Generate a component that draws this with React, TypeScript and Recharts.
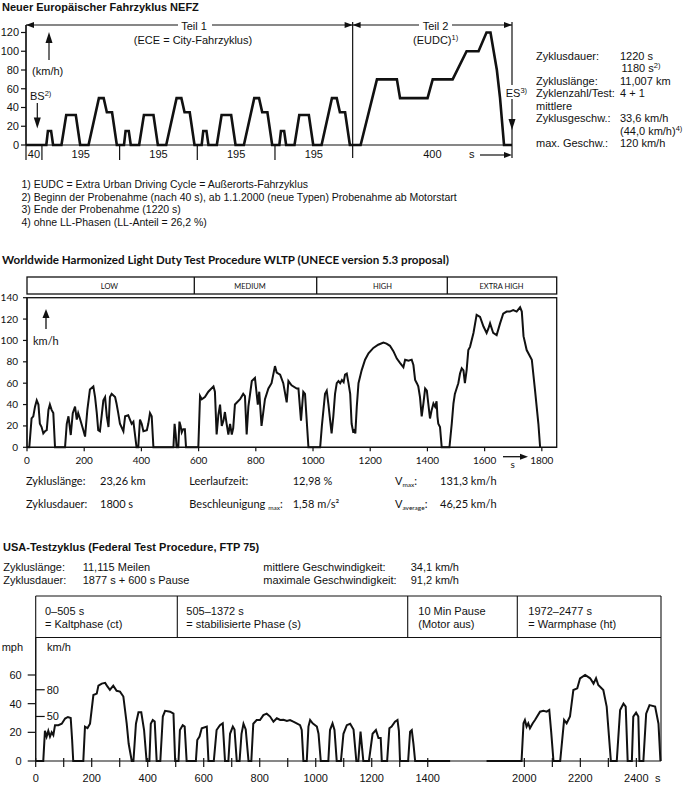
import { LineChart, Line, XAxis, YAxis } from "recharts"

const ARIAL = "'Liberation Sans', Arial, Helvetica, sans-serif"
const CAL = "Lato, 'Open Sans', sans-serif"
const INK = "#111"

// ---- NEFZ (NEDC) ----
const eceTimes = [0, 11, 15, 23, 28, 49, 61, 85, 96, 117, 143, 155, 163, 176, 188, 195]
const eceSpeeds = [0, 0, 15, 15, 0, 0, 32, 32, 0, 0, 50, 50, 35, 35, 0, 0]
const eudcTimes = [0, 20, 61, 111, 119, 188, 201, 251, 286, 316, 336, 346, 362, 370, 380, 400]
const eudcSpeeds = [0, 0, 70, 70, 50, 50, 70, 70, 100, 100, 120, 120, 80, 50, 0, 0]
const nefzSegLengths = [40, 195, 195, 195, 195, 400]
const nefzYTicks = [0, 20, 40, 60, 80, 100, 120]

// ---- WLTP, per phase (s, km/h) ----
const wltpLowTime = [
  0, 8, 16, 22, 28, 34, 40, 45, 51, 57, 63, 69, 75, 80, 86, 92, 98, 133, 139, 145,
  153, 160, 168, 174, 179, 185, 197, 203, 211, 220, 232, 238, 244, 249, 255, 267, 273, 279, 285, 290,
  296, 308, 313, 319, 325, 337, 343, 354, 360, 366, 372, 383, 389, 395, 401, 407, 419, 424, 430, 436,
  442, 512, 516, 520, 523, 529, 533, 537, 541, 546, 552, 556, 599,
]
const wltpLowSpeed = [
  0, 0, 27, 29, 38, 44, 40, 22, 19, 13, 15, 16, 35, 40, 35, 32, 0, 0, 22, 29,
  11.5, 32, 38, 26, 32, 27, 16, 10, 35, 54, 57, 47, 32, 16, 15, 44, 47, 29, 19, 47,
  50, 47, 41, 32, 22, 15, 29, 30, 26, 22, 24, 0, 0, 26, 22, 15, 16, 22, 32, 29,
  0, 0, 22, 12, 0, 0, 24, 20, 14, 17, 17, 0, 0,
]
const wltpMediumTime = [
  605, 611, 622, 634, 652, 657, 663, 669, 675, 681, 687, 692, 698, 704, 710, 716, 721, 727, 745, 756,
  762, 768, 774, 786, 797, 807, 812, 820, 832, 844, 855, 867, 873, 885, 896, 908, 914, 925, 943, 949,
  958, 966, 972, 984, 1025,
]
const wltpMediumSpeed = [
  48, 45, 47, 52, 57, 52, 12, 30, 40, 20, 25, 33, 22, 12, 22, 12, 18, 40, 45, 50,
  48, 12, 38, 62, 65, 40, 52, 20, 45, 55, 60, 76, 70, 68, 60, 42, 62, 58, 55, 55,
  25, 52, 50, 0, 0,
]
const wltpHighTime = [
  1031, 1042, 1048, 1054, 1060, 1065, 1071, 1077, 1083, 1089, 1095, 1101, 1107, 1112, 1118, 1124, 1130, 1135, 1140, 1144,
  1148, 1153, 1159, 1170, 1182, 1194, 1211, 1228, 1246, 1257, 1269, 1281, 1293, 1304, 1316, 1322, 1334, 1345, 1351, 1357,
  1363, 1368, 1374, 1380, 1386, 1392, 1398, 1403, 1409, 1415, 1421, 1427, 1432, 1435, 1438, 1444, 1450, 1477,
]
const wltpHighSpeed = [
  20, 50, 53, 40, 25, 13, 29, 50, 60, 62, 60, 63, 61, 68, 69, 60, 50, 22, 15, 16,
  13, 38, 60, 72, 82, 88, 93, 96, 98, 97, 95, 90, 83, 79, 75, 82, 81, 82, 77, 63,
  60, 57, 47, 29, 41, 55, 53, 41, 27, 35, 41, 38, 43, 29, 22, 19, 0, 0,
]
const wltpExtraTime = [
  1485, 1491, 1496, 1502, 1508, 1514, 1520, 1526, 1531, 1537, 1543, 1549, 1561, 1572, 1584, 1596, 1607, 1613, 1619, 1630,
  1642, 1654, 1665, 1677, 1688, 1700, 1712, 1724, 1730, 1736, 1747, 1765, 1776, 1788, 1794,
]
const wltpExtraSpeed = [
  22, 41, 50, 55, 60, 69, 74, 72, 60, 72, 91, 94, 107, 124, 122, 113, 107, 111, 116, 107,
  105, 116, 125, 127, 127, 128.5, 127, 131, 127, 104, 91, 82, 54, 22, 0,
]
const wltpYTicks = [0, 20, 40, 60, 80, 100, 120, 140]
const wltpXTicks = [0, 200, 400, 600, 800, 1000, 1200, 1400, 1600, 1800]
const wltpPhases = ["LOW", "MEDIUM", "HIGH", "EXTRA HIGH"]

// ---- FTP 75 (times in s, speed in mph) ----
const ftpTime = [
  0, 27, 33, 39, 45, 51, 57, 63, 69, 81, 93, 105, 115, 125, 130, 134, 170, 176, 185, 194,
  206, 218, 224, 236, 248, 256, 265, 277, 289, 301, 313, 325, 332, 343, 349, 358, 367, 377, 387, 396,
  406, 411, 418, 425, 432, 445, 454, 462, 480, 492, 498, 510, 515, 525, 532, 539, 572, 577, 585, 593,
  611, 617, 636, 646, 658, 668, 676, 688, 694, 704, 710, 718, 728, 735, 742, 750, 760, 770, 777, 789,
  801, 813, 825, 837, 849, 861, 873, 885, 897, 908, 920, 932, 944, 950, 956, 968, 974, 980, 989, 998,
  1004, 1010, 1018, 1045, 1051, 1060, 1067, 1075, 1090, 1099, 1111, 1123, 1135, 1145, 1152, 1160, 1170, 1190, 1203, 1215,
  1224, 1232, 1236, 1255, 1263, 1271, 1283, 1292, 1297, 1301, 1330, 1337, 1343, 1349, 1355, 1480,
]
const ftpMph = [
  0, 0, 21, 17, 21, 17, 20, 18, 25, 25, 26, 29.6, 30.7, 30, 15, 0, 0, 24, 23, 26,
  46, 47, 52.6, 54, 54.5, 52, 49.6, 52.6, 49, 48.4, 45, 26, 12, 0, 0, 26, 34, 34, 21.6, 0,
  0, 26, 28.6, 27.5, 0, 0, 31, 35, 34.4, 33, 0, 0, 21.6, 25, 24, 0, 0, 14.6, 17, 22.8,
  24, 0, 0, 21.6, 25, 26.3, 0, 0, 19, 24, 22, 0, 0, 19, 26, 22, 0, 0, 26, 28.6,
  28.6, 32, 33, 31, 27.4, 29.8, 28.6, 28.8, 28, 28.6, 27.4, 26.3, 25, 21.6, 0, 0, 24, 28.6, 26.3, 25,
  24, 19, 0, 0, 21.6, 26.3, 21.6, 0, 0, 19, 25, 26, 22, 0, 0, 20.5, 0, 0, 19, 21.6,
  16, 16, 0, 0, 22.8, 24, 27.4, 28.6, 21, 0, 0, 20.5, 21.6, 12, 0, 0,
]
const ftpHotTime = [
  1865, 1990, 1997, 2002, 2008, 2014, 2020, 2030, 2038, 2056, 2068, 2080, 2089, 2096, 2104, 2128, 2142, 2151, 2163, 2175,
  2189, 2199, 2217, 2235, 2247, 2256, 2264, 2282, 2294, 2309, 2330, 2342, 2354, 2362, 2369, 2384, 2389, 2399, 2407, 2411,
  2425, 2435, 2447, 2467, 2479, 2486,
]
const ftpHotMph = [
  0, 0, 26.3, 28.6, 24, 26.3, 22.8, 26.3, 28.6, 34.4, 35, 34.4, 35.6, 20, 0, 0, 28.6, 26.3, 31, 49.5,
  50.7, 57.7, 60, 57.7, 54, 57.7, 53, 49.5, 38, 0, 0, 35.6, 40, 38, 0, 0, 31, 33.7, 31, 0,
  0, 33, 39, 38, 26, 0,
]
const ftpPauseCut = 255 // seconds of the pause left out of the drawn axis
const ftpRealTicks = [0, 100, 200, 300, 400, 500, 600, 700, 800, 900, 1000, 1100, 1200, 1300, 1400, 2000, 2100, 2200, 2300, 2400]
const mphTicks = [0, 20, 40, 60]
const kmhTicks = [50, 80]
const KMH_PER_MPH = 1.609344
const ftpPhases = [
  ["0–505 s", "= Kaltphase (ct)"],
  ["505–1372 s", "= stabilisierte Phase (s)"],
  ["10 Min Pause", "(Motor aus)"],
  ["1972–2477 s", "= Warmphase (ht)"],
]

// build chart rows
const nefzData: { t: number; v: number }[] = [{ t: 0, v: 0 }]
for (let k = 0; k < 4; k++) {
  eceTimes.forEach((t, i) => nefzData.push({ t: 40 + k * 195 + t, v: eceSpeeds[i] }))
}
eudcTimes.forEach((t, i) => nefzData.push({ t: 820 + t, v: eudcSpeeds[i] }))

const nefzSegStarts = nefzSegLengths.map((_, i) => nefzSegLengths.slice(0, i).reduce((a, b) => a + b, 0))
const nefzSegTicks = nefzSegLengths.map((len, i) => nefzSegStarts[i] + len / 2)

const wltpTime = [...wltpLowTime, ...wltpMediumTime, ...wltpHighTime, ...wltpExtraTime]
const wltpSpeed = [...wltpLowSpeed, ...wltpMediumSpeed, ...wltpHighSpeed, ...wltpExtraSpeed]
const wltpData = wltpTime.map((t, i) => ({ t, v: wltpSpeed[i] }))

const toPos = (t: number) => (t > 1600 ? t - ftpPauseCut : t)
const toReal = (p: number) => (p > 1500 ? p + ftpPauseCut : p)
const ftpData: { pos: number; mph: number | null }[] = [
  ...ftpTime.map((t, i) => ({ pos: toPos(t), mph: ftpMph[i] })),
  { pos: 1545, mph: null },
  ...ftpHotTime.map((t, i) => ({ pos: toPos(t), mph: ftpHotMph[i] })),
]
const ftpTickPos = ftpRealTicks.map(toPos)
const ftpYTicks = [...mphTicks, ...kmhTicks.map((k) => k / KMH_PER_MPH)]

// pixel helper for the NEFZ annotations (same mapping as the chart: 26..512 px for 0..1220 s)
const nefzX = (t: number) => 26 + (t * 486) / 1220

function FtpTick(props: any) {
  const { x, y, payload } = props
  const real = toReal(payload.value)
  return (
    <g>
      <line x1={x} x2={x} y1={y - 3} y2={y + 6} stroke={INK} strokeWidth={1.2} />
      {real % 200 === 0 && (
        <text x={x} y={y + 20.5} textAnchor="middle" fontSize={11} fontFamily={ARIAL} fill={INK}>
          {real}
        </text>
      )}
    </g>
  )
}

// mph ticks to the left of the axis, km/h ticks inside the plot
function FtpYTick(props: any) {
  const { x, y, payload } = props
  const v = payload.value
  const kmh = kmhTicks.find((k) => Math.abs(k / KMH_PER_MPH - v) < 1e-6)
  if (kmh !== undefined) {
    return (
      <g>
        <line x1={x} x2={x + 9} y1={y} y2={y} stroke={INK} strokeWidth={1.2} />
        <text x={x + 11} y={y} dy="0.36em" fontSize={11} fontFamily={ARIAL} fill={INK}>
          {kmh}
        </text>
      </g>
    )
  }
  return (
    <g>
      <line x1={x - 8} x2={x} y1={y} y2={y} stroke={INK} strokeWidth={1.2} />
      <text x={x - 14} y={y} dy="0.36em" textAnchor="end" fontSize={11} fontFamily={ARIAL} fill={INK}>
        {v}
      </text>
    </g>
  )
}

function Txt(p: { x: number; y: number; children: any; size?: number; font?: string; bold?: boolean; anchor?: string }) {
  return (
    <text
      x={p.x}
      y={p.y}
      fontSize={p.size ?? 11}
      fontFamily={p.font ?? ARIAL}
      fontWeight={p.bold ? "bold" : "normal"}
      textAnchor={(p.anchor as any) ?? "start"}
      fill={INK}
    >
      {p.children}
    </text>
  )
}

function Sup({ children, size = 7.5 }: { children: any; size?: number }) {
  return (
    <tspan fontSize={size} dy={-4}>
      {children}
    </tspan>
  )
}

function Sub({ children }: { children: any }) {
  return (
    <tspan fontSize={6.5} dy={2.5}>
      {children}
    </tspan>
  )
}

const hArrow = (x: number, y: number, dir: number) => (
  <polygon points={`${x},${y} ${x - dir * 8},${y - 3} ${x - dir * 8},${y + 3}`} fill={INK} />
)
const vArrow = (x: number, y: number, dir: number, len = 10) => (
  <polygon points={`${x},${y} ${x - 3.5},${y - dir * len} ${x + 3.5},${y - dir * len}`} fill={INK} />
)

export default function App() {
  const axisStroke = { stroke: INK, strokeWidth: 1.2 }
  return (
    <div style={{ position: "relative", width: 685, height: 786, background: "#fff", overflow: "hidden" }}>
      <style>{`body{margin:0}`}</style>

      {/* NEFZ */}
      <div style={{ position: "absolute", left: 0, top: 0 }}>
        <LineChart width={520} height={170} data={nefzData} margin={{ top: 25, right: 8, bottom: 5, left: 0 }}>
          <XAxis
            dataKey="t"
            type="number"
            domain={[0, 1220]}
            ticks={nefzSegTicks}
            interval={0}
            tickFormatter={(v: number) => String(nefzSegLengths[nefzSegTicks.indexOf(v)])}
            axisLine={axisStroke}
            tickLine={false}
            tickSize={3}
            tickMargin={2}
            height={20}
            tick={{ fontSize: 11, fill: INK, fontFamily: ARIAL }}
          />
          <YAxis
            type="number"
            domain={[0, 128]}
            ticks={nefzYTicks}
            interval={0}
            width={26}
            axisLine={axisStroke}
            tickLine={axisStroke}
            tickSize={5}
            tickMargin={2}
            tick={{ fontSize: 11, fill: INK, fontFamily: ARIAL }}
          />
          <Line type="linear" dataKey="v" stroke={INK} strokeWidth={2.6} dot={false} isAnimationActive={false} />
        </LineChart>
      </div>

      {/* WLTP */}
      <div style={{ position: "absolute", left: 0, top: 290 }}>
        <LineChart width={570} height={180} data={wltpData} margin={{ top: 7.7, right: 13.3, bottom: 2.7, left: 0 }}>
          <XAxis
            dataKey="t"
            type="number"
            domain={[0, 1852]}
            ticks={wltpXTicks}
            interval={0}
            axisLine={axisStroke}
            tickLine={axisStroke}
            tickSize={4}
            tickMargin={6}
            height={20}
            tick={{ fontSize: 10, fill: INK, fontFamily: CAL }}
          />
          <YAxis
            type="number"
            domain={[0, 140]}
            ticks={wltpYTicks}
            interval={0}
            width={27}
            axisLine={axisStroke}
            tickLine={axisStroke}
            tickSize={4}
            tickMargin={5}
            tick={{ fontSize: 10, fill: INK, fontFamily: CAL }}
          />
          <Line type="linear" dataKey="v" stroke={INK} strokeWidth={2} dot={false} isAnimationActive={false} />
        </LineChart>
      </div>

      {/* FTP 75 */}
      <div style={{ position: "absolute", left: 0, top: 630 }}>
        <LineChart width={670} height={156} data={ftpData} margin={{ top: 7.3, right: 9, bottom: 0, left: 0 }}>
          <XAxis
            dataKey="pos"
            type="number"
            domain={[0, 2233]}
            ticks={ftpTickPos}
            interval={0}
            tick={(p: any) => <FtpTick {...p} />}
            tickLine={false}
            tickSize={0}
            tickMargin={0}
            axisLine={axisStroke}
            height={25}
          />
          <YAxis
            type="number"
            domain={[0, 86.3]}
            ticks={ftpYTicks}
            interval={0}
            width={35.7}
            axisLine={axisStroke}
            tickLine={false}
            tickSize={0}
            tickMargin={0}
            tick={(p: any) => <FtpYTick {...p} />}
          />
          <Line
            type="linear"
            dataKey="mph"
            stroke={INK}
            strokeWidth={2}
            dot={false}
            connectNulls={false}
            isAnimationActive={false}
          />
        </LineChart>
      </div>

      {/* annotations */}
      <svg width={685} height={786} style={{ position: "absolute", left: 0, top: 0, pointerEvents: "none" }}>
        {/* ---- NEFZ ---- */}
        <Txt x={2} y={10.5} bold>
          Neuer Europäischer Fahrzyklus NEFZ
        </Txt>
        <g stroke={INK} strokeWidth={1.2}>
          <line x1={nefzX(0)} x2={178} y1={25} y2={25} />
          <line x1={212} x2={nefzX(820)} y1={25} y2={25} />
          <line x1={nefzX(820)} x2={419} y1={25} y2={25} />
          <line x1={452} x2={nefzX(1220)} y1={25} y2={25} />
          <line x1={nefzX(0)} x2={nefzX(0)} y1={25} y2={160} />
          <line x1={nefzX(820)} x2={nefzX(820)} y1={22} y2={158} />
          <line x1={nefzX(1220)} x2={nefzX(1220)} y1={22} y2={158} />
          {nefzSegStarts.slice(1, 5).map((s) => (
            <line key={s} x1={nefzX(s)} x2={nefzX(s)} y1={145} y2={160} />
          ))}
          <line x1={49} x2={49} y1={60} y2={40} />
          <line x1={37.3} x2={37.3} y1={103} y2={120} />
          <line x1={480} x2={505} y1={155} y2={155} />
        </g>
        {hArrow(nefzX(0), 25, -1)}
        {hArrow(nefzX(820), 25, 1)}
        {hArrow(nefzX(820), 25, -1)}
        {hArrow(nefzX(1220), 25, 1)}
        {hArrow(512, 155, 1)}
        {vArrow(49, 32, -1, 11)}
        {vArrow(37.3, 128.5, 1, 11)}
        {vArrow(512, 130, 1, 11)}
        <Txt x={194} y={29.5} anchor="middle">
          Teil 1
        </Txt>
        <Txt x={193} y={43.5} anchor="middle">
          (ECE = City-Fahrzyklus)
        </Txt>
        <Txt x={435.5} y={29.5} anchor="middle">
          Teil 2
        </Txt>
        <Txt x={413} y={43.5}>
          (EUDC)<Sup>1)</Sup>
        </Txt>
        <Txt x={47.7} y={74.5} anchor="middle">
          (km/h)
        </Txt>
        <Txt x={30} y={99.5}>
          BS<Sup>2)</Sup>
        </Txt>
        <rect x={504} y={85} width={25} height={14} fill="#fff" />
        <Txt x={505.7} y={96.5}>
          ES<Sup>3)</Sup>
        </Txt>
        <Txt x={469} y={158.3}>
          s
        </Txt>

        {/* NEFZ key figures */}
        <Txt x={536} y={59.5}>Zyklusdauer:</Txt>
        <Txt x={620} y={59.5}>1220 s</Txt>
        <Txt x={621.5} y={72}>
          1180 s<Sup>2)</Sup>
        </Txt>
        <Txt x={536} y={84.5}>Zykluslänge:</Txt>
        <Txt x={620} y={84.5}>11,007 km</Txt>
        <Txt x={536} y={97}>Zyklenzahl/Test:</Txt>
        <Txt x={620} y={97}>4 + 1</Txt>
        <Txt x={536} y={109.5}>mittlere</Txt>
        <Txt x={536} y={122}>Zyklusgeschw.:</Txt>
        <Txt x={620} y={122}>33,6 km/h</Txt>
        <Txt x={620} y={134.5}>
          (44,0 km/h)<Sup>4)</Sup>
        </Txt>
        <Txt x={536} y={147}>max. Geschw.:</Txt>
        <Txt x={620} y={147}>120 km/h</Txt>

        {/* footnotes */}
        <Txt x={21.5} y={188.3} size={10.5}>1) EUDC = Extra Urban Driving Cycle = Außerorts-Fahrzyklus</Txt>
        <Txt x={21.5} y={200.7} size={10.5}>
          2) Beginn der Probenahme (nach 40 s), ab 1.1.2000 (neue Typen) Probenahme ab Motorstart
        </Txt>
        <Txt x={21.5} y={213.1} size={10.5}>3) Ende der Probenahme (1220 s)</Txt>
        <Txt x={21.5} y={225.5} size={10.5}>4) ohne LL-Phasen (LL-Anteil = 26,2 %)</Txt>

        {/* ---- WLTP ---- */}
        <Txt x={2} y={263.5} bold font={CAL} size={11.6}>
          Worldwide Harmonized Light Duty Test Procedure WLTP (UNECE version 5.3 proposal)
        </Txt>
        <g stroke={INK} strokeWidth={1.3} fill="none">
          <rect x={27} y={277} width={529.7} height={17} />
          <line x1={194.3} x2={194.3} y1={277} y2={294} />
          <line x1={316.7} x2={316.7} y1={277} y2={294} />
          <line x1={447.3} x2={447.3} y1={277} y2={294} />
          <rect x={27} y={297.7} width={529.7} height={149.6} />
          <line x1={46} x2={46} y1={329} y2={316} />
          <line x1={503} x2={521} y1={456.7} y2={456.7} />
        </g>
        {vArrow(46, 309, -1, 9)}
        {hArrow(528, 456.7, 1)}
        {wltpPhases.map((ph, i) => (
          <Txt key={ph} x={[109.5, 250, 382.5, 501.5][i]} y={288.5} size={7.5} font={CAL} anchor="middle">
            {ph}
          </Txt>
        ))}
        <Txt x={33} y={344.5} font={CAL} size={11}>
          km/h
        </Txt>
        <Txt x={510.5} y={468} font={CAL} size={10}>
          s
        </Txt>
        <Txt x={26} y={484.5} font={CAL}>Zykluslänge:</Txt>
        <Txt x={100} y={484.5} font={CAL}>23,26 km</Txt>
        <Txt x={189.3} y={484.5} font={CAL}>Leerlaufzeit:</Txt>
        <Txt x={292.7} y={484.5} font={CAL}>12,98 %</Txt>
        <Txt x={395} y={484.5} font={CAL}>
          V<Sub>max</Sub>
          <tspan dy={-2.5}>:</tspan>
        </Txt>
        <Txt x={440} y={484.5} font={CAL}>131,3 km/h</Txt>
        <Txt x={26} y={507.5} font={CAL}>Zyklusdauer:</Txt>
        <Txt x={100} y={507.5} font={CAL}>1800 s</Txt>
        <Txt x={189.3} y={507.5} font={CAL}>
          Beschleunigung <Sub>max</Sub>
          <tspan dy={-2.5}>:</tspan>
        </Txt>
        <Txt x={292.7} y={507.5} font={CAL}>1,58 m/s²</Txt>
        <Txt x={395} y={507.5} font={CAL}>
          V<Sub>average</Sub>
          <tspan dy={-2.5}>:</tspan>
        </Txt>
        <Txt x={440} y={507.5} font={CAL}>46,25 km/h</Txt>

        {/* ---- FTP 75 ---- */}
        <Txt x={3} y={551.3} bold>
          USA-Testzyklus (Federal Test Procedure, FTP 75)
        </Txt>
        <Txt x={3.3} y={570.5}>Zykluslänge:</Txt>
        <Txt x={82.7} y={570.5}>11,115 Meilen</Txt>
        <Txt x={263.3} y={570.5}>mittlere Geschwindigkeit:</Txt>
        <Txt x={410.7} y={570.5}>34,1 km/h</Txt>
        <Txt x={3.3} y={583.5}>Zyklusdauer:</Txt>
        <Txt x={82.7} y={583.5}>1877 s + 600 s Pause</Txt>
        <Txt x={263.3} y={583.5}>maximale Geschwindigkeit:</Txt>
        <Txt x={410.7} y={583.5}>91,2 km/h</Txt>
        <g stroke={INK} strokeWidth={1.1}>
          <line x1={35.7} x2={661} y1={596} y2={596} />
          <line x1={35.7} x2={661} y1={637.5} y2={637.5} />
          <line x1={35.7} x2={35.7} y1={596} y2={761} />
          <line x1={661} x2={661} y1={596} y2={761} />
          {[177.3, 407.7, 517.3].map((x) => (
            <line key={x} x1={x} x2={x} y1={596} y2={637.5} />
          ))}
        </g>
        {ftpPhases.map((ph, i) => {
          const x = [45, 186.3, 418.3, 528.3][i]
          return (
            <g key={ph[0]}>
              <Txt x={x} y={614.7}>{ph[0]}</Txt>
              <Txt x={x} y={627.5}>{ph[1]}</Txt>
            </g>
          )
        })}
        <Txt x={1.7} y={651}>mph</Txt>
        <Txt x={47} y={651}>km/h</Txt>
        <Txt x={655} y={781.5}>s</Txt>
      </svg>
    </div>
  )
}
